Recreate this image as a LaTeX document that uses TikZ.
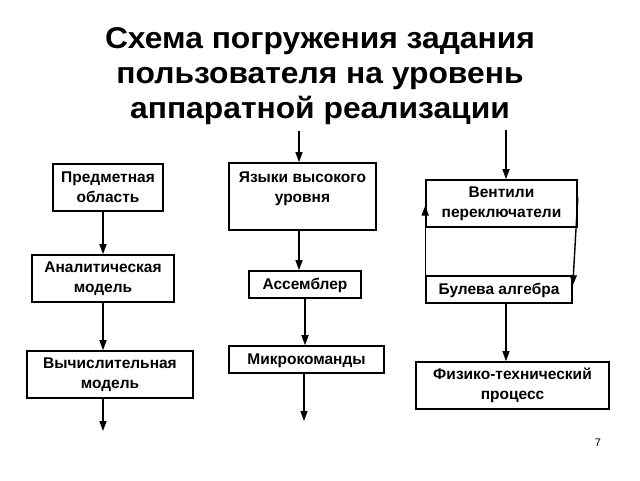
\documentclass[tikz,border=0pt]{standalone}
\usepackage{fontspec}
\setmainfont{Liberation Sans}
\newfontfamily\titlefont[FakeStretch=1.06]{Liberation Sans}
\usetikzlibrary{arrows.meta,calc}
\begin{document}
\begin{tikzpicture}[x=1pt,y=-1pt,
  box/.style={draw=black,line width=1.6pt,fill=white,inner sep=0pt,align=center,
    font=\fontsize{15.5}{20}\selectfont\bfseries},
  arr/.style={line width=1.4pt,-{Triangle[length=10pt,width=7pt]}},
  ttl/.style={font=\titlefont\fontsize{30}{35}\selectfont\bfseries,align=center,inner sep=0pt}
]
\useasboundingbox[fill=white] (0,0) rectangle (640,480);
% title
\node[ttl,anchor=base] (title) at (320,118) {Схема погружения задания\\пользователя на уровень\\аппаратной реализации};
% left column
\node[box,minimum width=110pt,minimum height=47pt] (pred) at (108,187.5) {Предметная\\область};
\node[box,minimum width=142pt,minimum height=47pt] (anal) at (103,278.5) {Аналитическая\\модель};
\node[box,minimum width=166pt,minimum height=47pt] (vych) at (110,374.5) {Вычислительная\\модель};
\coordinate (c1) at (103,0);
\coordinate (e1) at (103,431);
\draw[arr] (pred.south -| c1) -- (anal.north -| c1);
\draw[arr] (anal.south -| c1) -- (vych.north -| c1);
\draw[arr] (vych.south -| c1) -- (e1);
% middle column
\node[box,minimum width=147pt,minimum height=67pt] (lang) at (302.5,196.5) {Языки высокого\\уровня\\[-2pt]\mbox{}};
\node[box,minimum width=112pt,minimum height=27pt,text depth=1pt] (asm) at (305,284.5) {Ассемблер};
\node[box,minimum width=155pt,minimum height=27pt,text depth=1pt] (micro) at (306.5,359.5) {Микрокоманды};
\coordinate (s2) at (299,131);
\coordinate (c2a) at (299,0);
\coordinate (c2b) at (305,0);
\coordinate (c2c) at (304,0);
\coordinate (e2) at (304,421);
\draw[arr] (s2) -- (lang.north -| s2);
\draw[arr] (lang.south -| c2a) -- (asm.north -| c2a);
\draw[arr] (asm.south -| c2b) -- (micro.north -| c2b);
\draw[arr] (micro.south -| c2c) -- (e2);
% right column
\node[box,minimum width=151pt,minimum height=47pt] (vent) at (501.5,203.5) {Вентили\\переключатели};
\node[box,minimum width=146pt,minimum height=27pt,text depth=1pt] (bool) at (499,289.5) {Булева алгебра};
\node[box,minimum width=193pt,minimum height=47pt] (phys) at (512.5,385.5) {Физико-технический\\процесс};
\coordinate (s3) at (506,130);
\draw[arr] (s3) -- (vent.north -| s3);
\draw[arr] (bool.south west) -- ([yshift=-2pt]vent.west);
\draw[arr] ([yshift=6pt]vent.east) -- ([yshift=-10pt]bool.north east);
\draw[arr] (bool.south -| s3) -- (phys.north -| s3);
% page number
\node[font=\fontsize{11}{13}\selectfont,inner sep=0pt] (pg) at (598,443) {7};
\end{tikzpicture}
\end{document}
